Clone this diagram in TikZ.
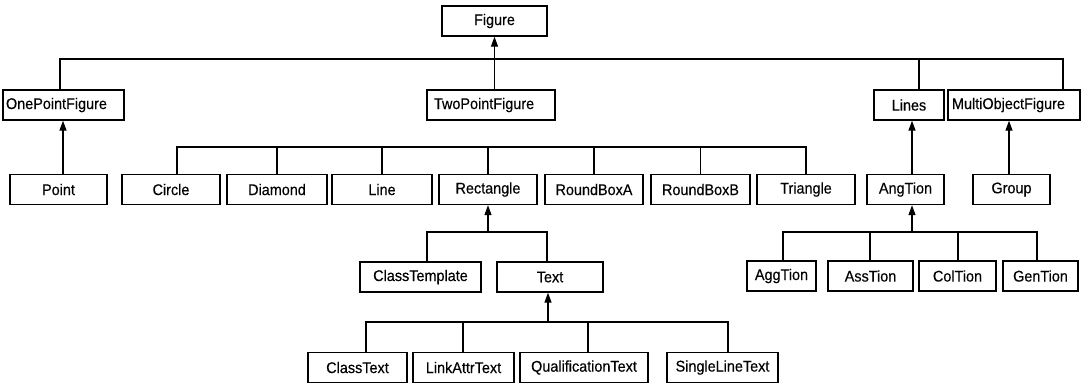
\documentclass[tikz,border=0pt]{standalone}
\usepackage{fontspec}
\setmainfont{Liberation Sans}[FakeStretch=0.93,FakeBold=0.3]
\usetikzlibrary{arrows.meta}
\begin{document}
\begin{tikzpicture}[x=1pt,y=-1pt,
  box/.style={draw, line width=1.35pt, inner sep=0pt, minimum height=30pt,
              font=\fontsize{15.5}{17}\selectfont},
  lbox/.style={box, align=left},
  wire/.style={line width=1.35pt},
  arr/.style={wire, -{Triangle[length=10pt,width=7pt]}}]
\useasboundingbox (0,0) rectangle (1086,384);

% level 0 and 1
\node[box, minimum width=105pt] (Figure) at (494.5,21) {Figure};
\node[lbox, text width=115pt, inner xsep=3pt] (OPF) at (63.5,105) {OnePointFigure};
\node[lbox, text width=114pt, inner xsep=7pt] (TPF) at (491,105) {TwoPointFigure};
\node[box, minimum width=70pt] (Lines) at (909,105) {Lines};
\node[lbox, text width=124pt, inner xsep=4pt] (MOF) at (1014,105) {MultiObjectFigure};

% level 2
\node[box, minimum width=97pt]  (Point)     at (58.5,189.5)  {Point};
\node[box, minimum width=98pt]  (Circle)    at (171,189.5)   {Circle};
\node[box, minimum width=100pt] (Diamond)   at (277,189.5)   {Diamond};
\node[box, minimum width=100pt] (Line)      at (382,189.5)   {Line};
\node[box, minimum width=98pt]  (Rectangle) at (488,189.5)   {Rectangle};
\node[box, minimum width=98pt]  (RBA)       at (594,189.5)   {RoundBoxA};
\node[box, minimum width=99pt]  (RBB)       at (700.5,189.5) {RoundBoxB};
\node[box, minimum width=98pt]  (Triangle)  at (806,189.5)   {Triangle};
\node[box, minimum width=77pt]  (AngTion)   at (905.5,189.5) {AngTion};
\node[box, minimum width=77pt]  (Group)     at (1011.5,189.5) {Group};

% level 3
\node[box, minimum width=121pt] (ClassTemplate) at (420.5,277) {ClassTemplate};
\node[box, minimum width=106pt] (Text)          at (550,277)   {Text};
\node[box, minimum width=69pt]  (AggTion) at (781.5,276)  {AggTion};
\node[box, minimum width=85pt]  (AssTion) at (870.5,276)  {AssTion};
\node[box, minimum width=77pt]  (ColTion) at (957.5,276)  {ColTion};
\node[box, minimum width=75pt]  (GenTion) at (1040.5,276) {GenTion};

% level 4
\node[box, minimum width=99pt]  (ClassText) at (357.5,367.5) {ClassText};
\node[box, minimum width=101pt] (LinkAttrText) at (463.5,367.5) {LinkAttrText};
\node[box, minimum width=128pt] (QualText) at (584,367.5) {QualificationText};
\node[box, minimum width=111pt] (SLText) at (722.5,367.5) {SingleLineText};

% bus under Figure
\coordinate (b1L) at (60,59);
\coordinate (b1R) at (1063,59);
\draw[wire] (OPF.north -| b1L) -- (b1L) -- (b1R) -- (b1R |- MOF.north);
\draw[wire] ([xshift=10pt]Lines.north) -- ([xshift=10pt]Lines.north |- b1L);
\draw[arr] (Figure.south |- TPF.north) -- (Figure.south);

% single-child arrows
\draw[arr] ([xshift=4.5pt]Point.north) -- ([xshift=4.5pt]Point.north |- OPF.south);
\draw[arr] ([xshift=6.5pt]AngTion.north) -- ([xshift=6.5pt]AngTion.north |- Lines.south);
\draw[arr] ([xshift=-2.5pt]Group.north) -- ([xshift=-2.5pt]Group.north |- MOF.south);

% bus over the TwoPointFigure subclasses
\coordinate (b2L) at (177,147);
\coordinate (b2R) at (806,147);
\draw[wire] (Circle.north -| b2L) -- (b2L) -- (b2R) -- (Triangle.north);
\foreach \n in {Diamond,Line,Rectangle,RBA,RBB}
  \draw[wire] (\n.north) -- (\n.north |- b2L);

% Rectangle subclasses
\coordinate (b3L) at (427,232);
\coordinate (b3R) at (547,232);
\draw[wire] (ClassTemplate.north -| b3L) -- (b3L) -- (b3R) -- (b3R |- Text.north);
\draw[arr] (Rectangle.south |- b3L) -- (Rectangle.south);

% AngTion subclasses
\coordinate (b5L) at (783,232);
\coordinate (b5R) at (1037,232);
\draw[wire] (AggTion.north -| b5L) -- (b5L) -- (b5R) -- (b5R |- GenTion.north);
\draw[wire] (AssTion.north -| 870,0) -- (870,232);
\draw[wire] (ColTion.north -| 958,0) -- (958,232);
\draw[arr] ([xshift=6.5pt]AngTion.south |- b5L) -- ([xshift=6.5pt]AngTion.south);

% Text subclasses
\coordinate (b4L) at (366,322);
\coordinate (b4R) at (728,322);
\draw[wire] (ClassText.north -| b4L) -- (b4L) -- (b4R) -- (b4R |- SLText.north);
\draw[wire] (LinkAttrText.north -| 463,0) -- (463,322);
\draw[wire] (QualText.north -| 588,0) -- (588,322);
\draw[arr] ([xshift=-2pt]Text.south |- b4L) -- ([xshift=-2pt]Text.south);
\end{tikzpicture}
\end{document}
